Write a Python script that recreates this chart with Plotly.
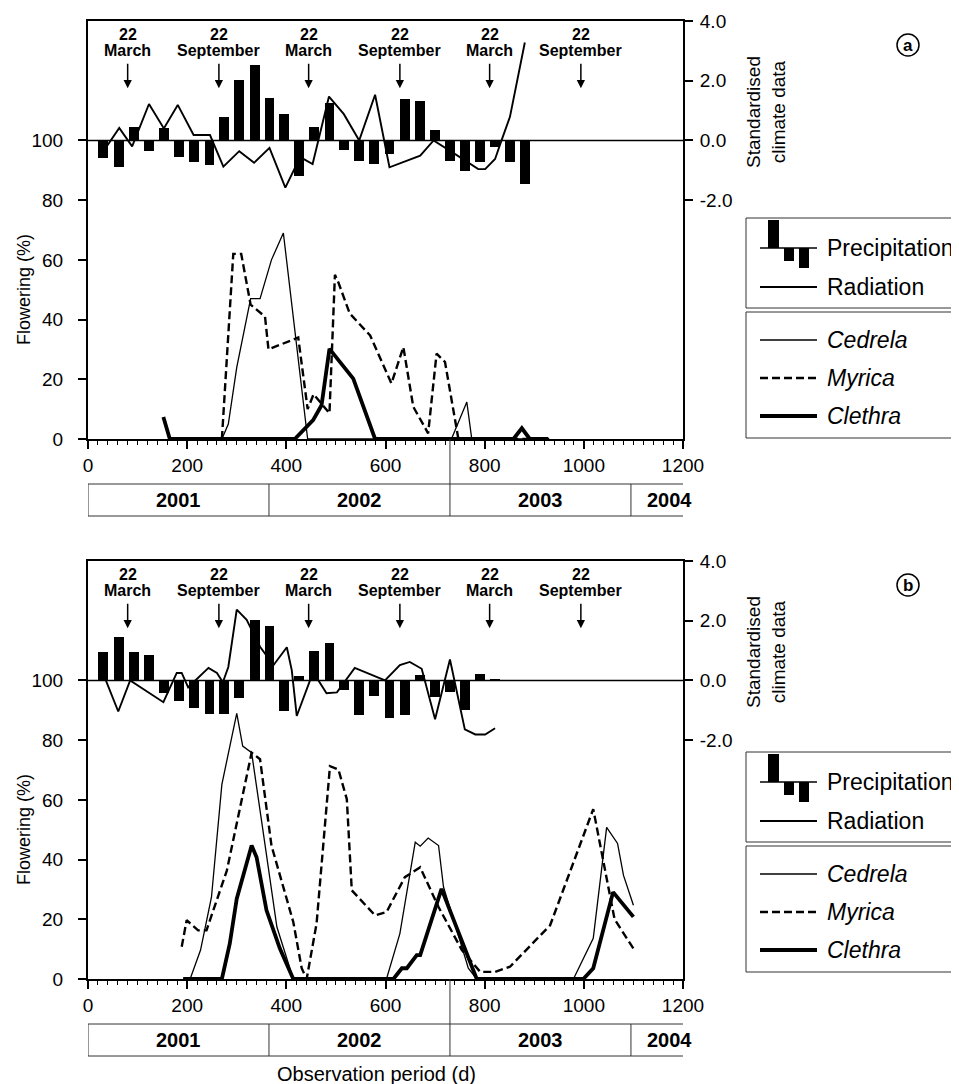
import plotly.graph_objects as go

W, H = 959, 1084
FONT = "Arial, Liberation Sans, sans-serif"

# ---------------- data ----------------
# Panel a: climate
a_precip_day = [30, 62, 93, 123, 153, 184, 214, 245, 274, 305, 336, 366, 396, 426, 456, 487, 517, 547, 577, 608, 639, 670, 700, 730, 760, 791, 821, 851, 881]
a_precip_val = [-0.58, -0.88, 0.45, -0.37, 0.42, -0.54, -0.73, -0.81, 0.77, 2.02, 2.51, 1.43, 0.9, -1.19, 0.45, 1.24, -0.31, -0.68, -0.79, -0.47, 1.4, 1.32, 0.34, -0.68, -1.02, -0.73, -0.23, -0.71, -1.47]
a_rad_day = [24, 63, 89, 123, 153, 181, 213, 246, 273, 305, 335, 366, 398, 428, 453, 486, 516, 547, 579, 608, 670, 697, 750, 787, 801, 821, 834, 851, 881]
a_rad_val = [-0.54, 0.42, -0.2, 1.22, 0.4, 1.19, 0.18, 0.18, -0.88, -0.36, -0.75, -0.25, -1.58, -0.56, -0.79, 1.47, 0.88, 0.0, 1.53, -0.9, -0.51, 0.0, -0.56, -0.96, -0.96, -0.62, 0.0, 0.79, 3.28]
# Panel a: flowering
a_cedrela_day = [165, 270, 283, 300, 328, 347, 370, 394, 443, 733, 764, 774, 930]
a_cedrela_val = [0, 0, 5, 24, 47, 47, 60, 69, 0, 0, 12.4, 0, 0]
a_myrica_day = [270, 293, 309, 328, 357, 364, 424, 443, 455, 487, 498, 505, 528, 569, 612, 636, 656, 686, 703, 720, 747, 930]
a_myrica_val = [0, 62, 62, 45, 41, 30, 34, 10, 15, 8.6, 55, 52.4, 42, 34.7, 18.6, 30.8, 10.8, 1.9, 28.6, 25.8, 0, 0]
a_clethra_day = [152, 165, 417, 454, 471, 487, 535, 579, 858, 875, 891, 928]
a_clethra_val = [7.4, 0, 0, 6.3, 11.3, 30.2, 20.2, 0, 0, 3.6, 0, 0]

# Panel b: climate
b_precip_day = [31, 62, 93, 123, 153, 184, 214, 245, 274, 305, 336, 366, 396, 426, 456, 487, 517, 547, 577, 608, 639, 670, 700, 730, 760, 791, 821]
b_precip_val = [0.94, 1.47, 0.94, 0.85, -0.43, -0.68, -0.94, -1.13, -1.13, -0.59, 2.01, 1.83, -1.02, 0.15, 0.99, 1.24, -0.31, -1.16, -0.53, -1.27, -1.16, 0.19, -0.57, -0.4, -0.99, 0.23, 0.03]
b_rad_day = [28, 61, 85, 152, 179, 189, 202, 243, 260, 272, 283, 300, 320, 347, 374, 401, 411, 421, 454, 481, 502, 538, 599, 629, 649, 673, 700, 730, 760, 781, 801, 821]
b_rad_val = [0.34, -1.04, 0.0, -0.73, 0.25, 0.25, -0.23, 0.42, 0.25, -0.06, 0.45, 2.37, 2.03, 1.13, 0.51, 1.11, 0.34, -1.19, 0.28, -0.43, -0.4, 0.42, 0.0, 0.51, 0.62, 0.39, -1.3, 0.7, -1.64, -1.81, -1.81, -1.6]
# Panel b: flowering
b_cedrela_day = [192, 206, 227, 249, 270, 283, 300, 312, 330, 351, 381, 414, 602, 629, 660, 670, 686, 707, 717, 754, 767, 784, 979, 1019, 1046, 1068, 1080, 1100]
b_cedrela_val = [0, 0, 9.7, 27.4, 65.2, 75.2, 89, 78, 75.8, 51.9, 17.4, 0, 0, 15.2, 45.8, 44.5, 47.2, 44.7, 30.8, 10.8, 3.6, 0, 0, 13.6, 50.8, 45.4, 34.7, 24.7]
b_myrica_day = [189, 199, 222, 239, 280, 330, 347, 370, 414, 431, 441, 461, 488, 505, 522, 532, 579, 602, 639, 670, 707, 754, 791, 821, 851, 932, 1019, 1062, 1100]
b_myrica_val = [10.8, 19.7, 16.3, 16.3, 36.3, 75.8, 73.6, 44.7, 19.1, 3.6, 0, 18.6, 71.3, 70.2, 60.2, 29.7, 21.3, 22.4, 34.1, 37.4, 24.1, 9.7, 2.4, 2.4, 4.1, 18, 56.9, 20, 10.2]
b_clethra_day = [192, 270, 286, 300, 330, 340, 360, 387, 414, 616, 633, 643, 663, 670, 713, 784, 999, 1019, 1059, 1100]
b_clethra_val = [0, 0, 11.9, 26.9, 44.7, 40.8, 23, 10.2, 0, 0, 3.6, 3.6, 8, 8, 30.2, 0, 0, 3.6, 29.1, 20.8]

# ticks / labels
x_ticks = [0, 200, 400, 600, 800, 1000, 1200]
flower_ticks = [0, 20, 40, 60, 80, 100]
climate_ticks = [-2, 0, 2, 4]
climate_ticktext = ["-2.0", "0.0", "2.0", "4.0"]
season_day = [80, 264, 445, 629, 810, 994]
season_day_label = ["22", "22", "22", "22", "22", "22"]
season_month = ["March", "September", "March", "September", "March", "September"]
year_start = [0, 365, 730, 1095]
year_label = ["2001", "2002", "2003", "2004"]
year_text_day = [182, 547, 912, 1172]

# ---------------- layout helpers ----------------
OX, OY = 8, 8  # page body margin of the browser


def px(x):
    return (x - OX) / W


def py(y):
    return 1 - (y - OY) / H


X0, X1 = 88, 683
panels = [
    dict(top=21, bottom=439, xa="x", ya="y", ya2="y2", letter="a", leg_off=0,
         precip=(a_precip_day, a_precip_val), rad=(a_rad_day, a_rad_val),
         ced=(a_cedrela_day, a_cedrela_val), myr=(a_myrica_day, a_myrica_val), cle=(a_clethra_day, a_clethra_val)),
    dict(top=561, bottom=979, xa="x2", ya="y3", ya2="y4", letter="b", leg_off=534,
         precip=(b_precip_day, b_precip_val), rad=(b_rad_day, b_rad_val),
         ced=(b_cedrela_day, b_cedrela_val), myr=(b_myrica_day, b_myrica_val), cle=(b_clethra_day, b_clethra_val)),
]

fig = go.Figure()
shapes = []
annots = []
layout = {}

tickfont = dict(family=FONT, size=19, color="black")


def note(x, y, text, size, xref="paper", yref="paper", xanchor="center", yanchor="middle", **kw):
    d = dict(x=x, y=y, xref=xref, yref=yref, text=text, showarrow=False, xanchor=xanchor, yanchor=yanchor,
             font=dict(family=FONT, size=size, color="black"))
    d.update(kw)
    annots.append(d)


for i, p in enumerate(panels):
    xa, ya, ya2 = p["xa"], p["ya"], p["ya2"]
    # traces
    fig.add_trace(go.Bar(x=p["precip"][0], y=p["precip"][1], width=20, marker=dict(color="black", line=dict(width=0)),
                         xaxis=xa, yaxis=ya2, showlegend=False))
    fig.add_trace(go.Scatter(x=p["rad"][0], y=p["rad"][1], mode="lines", line=dict(color="black", width=1.9),
                             xaxis=xa, yaxis=ya2, showlegend=False))
    fig.add_trace(go.Scatter(x=p["ced"][0], y=p["ced"][1], mode="lines", line=dict(color="black", width=1.3),
                             xaxis=xa, yaxis=ya, showlegend=False))
    fig.add_trace(go.Scatter(x=p["myr"][0], y=p["myr"][1], mode="lines", line=dict(color="black", width=2.4, dash="8px,4px"),
                             xaxis=xa, yaxis=ya, showlegend=False))
    fig.add_trace(go.Scatter(x=p["cle"][0], y=p["cle"][1], mode="lines", line=dict(color="black", width=3.8),
                             xaxis=xa, yaxis=ya, showlegend=False))

    ydom = [py(p["bottom"]), py(p["top"])]
    xkey = "xaxis" if xa == "x" else "xaxis2"
    ykey = "yaxis" if ya == "y" else "yaxis3"
    y2key = "yaxis2" if ya2 == "y2" else "yaxis4"
    layout[xkey] = dict(domain=[px(X0), px(X1)], anchor=ya, range=[0, 1200], tickvals=x_ticks,
                        showline=True, mirror=True, linecolor="black", linewidth=2,
                        ticks="outside", ticklen=8, tickwidth=1.5, tickcolor="black",
                        minor=dict(dtick=20, tick0=0, ticks="outside", ticklen=4, tickwidth=1.2, tickcolor="black"),
                        showgrid=False, zeroline=False, tickfont=tickfont, fixedrange=True, automargin=False)
    layout[ykey] = dict(domain=ydom, anchor=xa, range=[0, 140], tickvals=flower_ticks,
                        showline=True, linecolor="black", linewidth=2,
                        ticks="outside", ticklen=8, tickwidth=1.5, tickcolor="black", ticklabelstandoff=11,
                        showgrid=False, zeroline=False, tickfont=tickfont, fixedrange=True, automargin=False)
    layout[y2key] = dict(domain=ydom, anchor=xa, overlaying=ya, side="right", range=[-10, 4],
                         tickvals=climate_ticks, ticktext=climate_ticktext,
                         showline=True, linecolor="black", linewidth=2,
                         ticks="outside", ticklen=8, tickwidth=1.5, tickcolor="black", ticklabelstandoff=3,
                         showgrid=False, zeroline=False, tickfont=tickfont, fixedrange=True, automargin=False)

    # zero line of climate data
    shapes.append(dict(type="line", xref=xa, yref=ya2, x0=0, x1=1200, y0=0, y1=0,
                       line=dict(color="black", width=1.6)))

    # season annotations
    t = p["top"]
    for d, dl, mo in zip(season_day, season_day_label, season_month):
        note(d, py(t + 13), "<b>" + dl + "</b>", 16, xref=xa)
        note(d, py(t + 29), "<b>" + mo + "</b>", 16, xref=xa)
        annots.append(dict(x=d, y=1.75, xref=xa, yref=ya2, text="", showarrow=True, ax=0, ay=-26,
                           arrowhead=2, arrowsize=1.1, arrowwidth=1.5, arrowcolor="black"))

    # year boxes
    bt = p["bottom"] + 45
    bb = p["bottom"] + 77
    for yy in (bt, bb):
        shapes.append(dict(type="line", xref=xa, yref="paper", x0=0, x1=1200, y0=py(yy), y1=py(yy),
                           line=dict(color="#333", width=1)))
    for d in year_start:
        ytop = p["bottom"] if d == 730 else bt
        shapes.append(dict(type="line", xref=xa, yref="paper", x0=d, x1=d, y0=py(bb), y1=py(ytop),
                           line=dict(color="#333", width=1)))
    for d, lab in zip(year_text_day, year_label):
        note(d, py((bt + bb) / 2), "<b>" + lab + "</b>", 20, xref=xa)

    # axis titles
    note(px(24), py(t + 269), "Flowering (%)", 18, textangle=-90)
    note(px(766), py(t + 91), "Standardised<br>climate data", 19, textangle=-90)

    # panel letter
    cy = t + 24
    shapes.append(dict(type="circle", xref="paper", yref="paper", x0=px(897), x1=px(919), y0=py(cy + 11), y1=py(cy - 11),
                       line=dict(color="black", width=1.5)))
    note(px(908), py(cy), "<b>" + p["letter"] + "</b>", 17)

    # legend boxes
    o = p["leg_off"]
    shapes.append(dict(type="rect", xref="paper", yref="paper", x0=px(746), x1=px(980), y0=py(308 + o), y1=py(218 + o),
                       line=dict(color="#333", width=1)))
    shapes.append(dict(type="rect", xref="paper", yref="paper", x0=px(746), x1=px(980), y0=py(438 + o), y1=py(312 + o),
                       line=dict(color="#333", width=1)))
    # precipitation symbol
    ly = 248 + o
    shapes.append(dict(type="line", xref="paper", yref="paper", x0=px(760), x1=px(817), y0=py(ly), y1=py(ly),
                       line=dict(color="black", width=1.5)))
    for bx0, bx1, by0, by1 in [(768, 779, 220, 248), (784, 794, 248, 261), (799, 809, 248, 268)]:
        shapes.append(dict(type="rect", xref="paper", yref="paper", x0=px(bx0), x1=px(bx1),
                           y0=py(by1 + o), y1=py(by0 + o), fillcolor="black", line=dict(width=0)))
    # radiation / species line samples
    for yy, w, dash in [(287, 1.8, "solid"), (340, 1.3, "solid"), (378, 2.4, "8px,4px"), (416, 3.8, "solid")]:
        shapes.append(dict(type="line", xref="paper", yref="paper", x0=px(760), x1=px(817), y0=py(yy + o), y1=py(yy + o),
                           line=dict(color="black", width=w, dash=dash)))
    for yy, txt in [(248, "Precipitation"), (287, "Radiation"), (340, "<i>Cedrela</i>"), (378, "<i>Myrica</i>"), (416, "<i>Clethra</i>")]:
        note(px(825), py(yy + o), txt, 23, xanchor="left")

note(px(376), py(1074), "Observation period (d)", 20)

fig.update_layout(width=W, height=H, margin=dict(l=0, r=0, t=0, b=0, autoexpand=False), autosize=False,
                  paper_bgcolor="white", plot_bgcolor="white", showlegend=False,
                  shapes=shapes, annotations=annots, bargap=0, **layout)

fig.write_html("out.html")
